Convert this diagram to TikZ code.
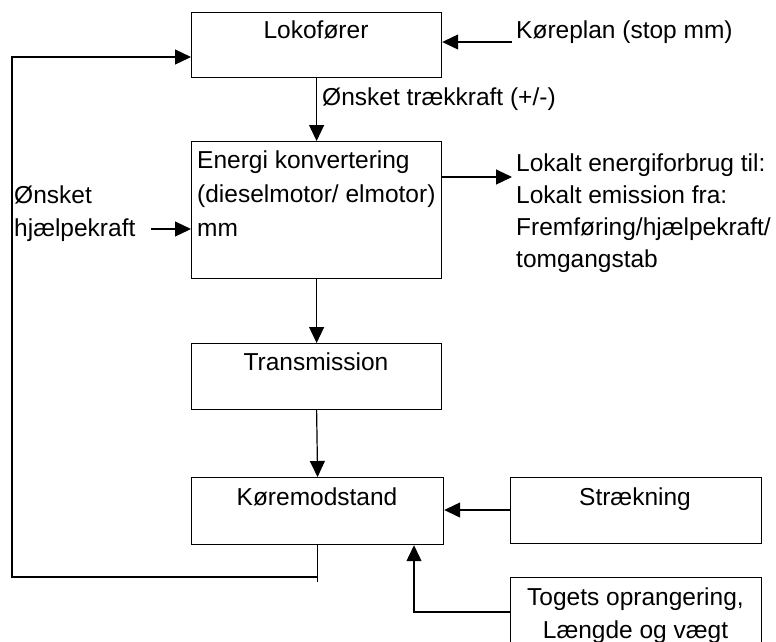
\documentclass[tikz,border=0pt]{standalone}
\usepackage{fontspec}
\setmainfont{Liberation Sans}
\usetikzlibrary{arrows.meta}
\begin{document}
\begin{tikzpicture}[x=1pt,y=-1pt,
  box/.style={draw,line width=1.2pt,inner sep=0pt,anchor=north west},
  txt/.style={font=\fontsize{24.5}{33}\selectfont,inner sep=0pt,text height=17.5pt,text depth=0pt},
  mtxt/.style={font=\fontsize{24.5}{33}\selectfont,inner sep=0pt,align=left,anchor=north west},
  arr/.style={line width=1.2pt,-{Triangle[length=16pt,width=15pt]}},
  ln/.style={line width=1.2pt}]
\useasboundingbox (0,0) rectangle (776,641);
\clip (0,0) rectangle (776,641);
% boxes
\node[box,minimum width=250pt,minimum height=65pt] (lok) at (191,12) {};
\node[box,minimum width=250pt,minimum height=137pt] (ene) at (191,141) {};
\node[box,minimum width=250pt,minimum height=66pt] (tra) at (191,343) {};
\node[box,minimum width=252pt,minimum height=67pt] (kor) at (191,477) {};
\node[box,minimum width=251pt,minimum height=66pt] (str) at (510,477) {};
\node[box,minimum width=251pt,minimum height=80pt] (tog) at (510,577) {};
% texts
\node[txt] (lokt) at (316,30) {Lokofører};
\node[txt] (trat) at (316,362) {Transmission};
\node[txt] (kort) at (317,497) {Køremodstand};
\node[txt] (strt) at (635,497) {Strækning};
\node[txt,anchor=west] (kpt) at (516,30) {Køreplan (stop mm)};
\node[txt,anchor=west] (onsk) at (322,97) {Ønsket trækkraft (+/-)};
\node[mtxt,font=\fontsize{24.5}{34}\selectfont] (enet) at (197,151) {Energi konvertering\\(dieselmotor/ elmotor)\\mm};
\node[mtxt,font=\fontsize{24.5}{32}\selectfont] (outt) at (516,154) {Lokalt energiforbrug til:\\Lokalt emission fra:\\Fremføring/hjælpekraft/\\tomgangstab};
\node[mtxt] (hjt) at (14,186) {Ønsket\\hjælpekraft};
\node[mtxt,align=center,anchor=north] (togt) at (635.5,588) {Togets oprangering,\\Længde og vægt};
% connectors
\coordinate (kpin) at (512,42);
\draw[arr] (kpin) -- (kpin -| lok.east);
\draw[arr] (lok.south) -- (ene.north);
\coordinate (outend) at (512,177);
\draw[arr] (outend -| ene.east) -- (outend);
\coordinate (hjin) at (151,229);
\draw[arr] (hjin) -- (hjin -| ene.west);
\draw[arr] (ene.south) -- (tra.north);
\draw[arr] (tra.south) -- (kor.north);
\draw[arr] (str.west |- 0,510) -- (kor.east |- 0,510);
\coordinate (fbc) at (317,577);
\draw[ln] (kor.south) -- ++(0,37);
\draw[arr] (fbc) -- (12,577) -- (12,57) -- (lok.west |- 0,57);
\draw[arr] (tog.west |- 0,612) -- (414,612) -- (414,0 |- kor.south);
\end{tikzpicture}
\end{document}
